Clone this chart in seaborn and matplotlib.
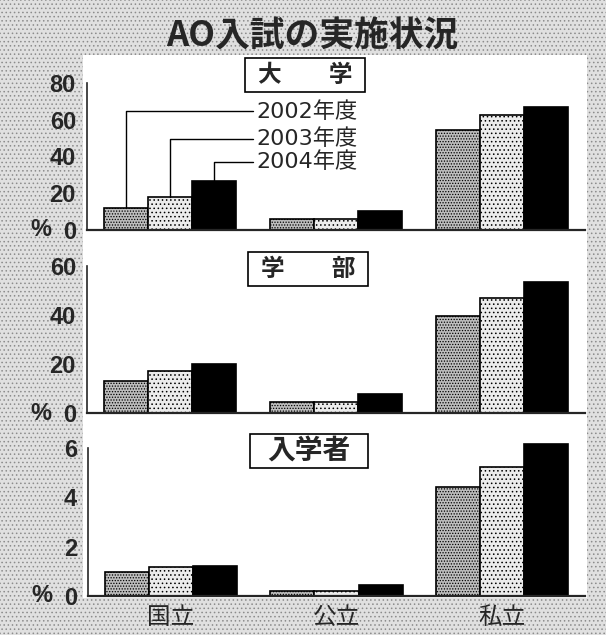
import matplotlib
matplotlib.use("Agg")
import matplotlib.pyplot as plt
from matplotlib.patches import Rectangle
import pandas as pd
import seaborn as sns

# 区分と年度
categories = ["国立", "公立", "私立"]
years = ["2002年度", "2003年度", "2004年度"]

# 大学 (%)
daigaku_2002 = [12.2, 5.8, 54.5]
daigaku_2003 = [18.0, 5.8, 62.4]
daigaku_2004 = [26.6, 10.4, 66.9]

# 学部 (%)
gakubu_2002 = [13.0, 4.4, 39.6]
gakubu_2003 = [17.0, 4.4, 46.8]
gakubu_2004 = [19.8, 7.8, 53.6]

# 入学者 (%)
nyugaku_2002 = [0.97, 0.2, 4.42]
nyugaku_2003 = [1.18, 0.2, 5.23]
nyugaku_2004 = [1.22, 0.46, 6.15]

panel_titles = ["大　　学", "学　　部", "入学者"]
panel_ticks = [[0, 20, 40, 60, 80], [0, 20, 40, 60], [0, 2, 4, 6]]

# ラベルの引き出し線の高さ(大学パネル)
label_levels = [64.5, 49.5, 37.0]


def make_frame(v02, v03, v04):
    rows = []
    for yr, vals in zip(years, [v02, v03, v04]):
        for cat, v in zip(categories, vals):
            rows.append({"区分": cat, "年度": yr, "値": v})
    return pd.DataFrame(rows)


frames = [make_frame(daigaku_2002, daigaku_2003, daigaku_2004),
          make_frame(gakubu_2002, gakubu_2003, gakubu_2004),
          make_frame(nyugaku_2002, nyugaku_2003, nyugaku_2004)]

sns.set_style("white")
plt.rcParams["font.family"] = ["Liberation Sans", "Noto Sans CJK JP", "DejaVu Sans"]
plt.rcParams["hatch.linewidth"] = 0.6

W, H = 606, 635


def px_box(left, top, right, bottom):
    return [left / W, 1 - bottom / H, (right - left) / W, (bottom - top) / H]


fig = plt.figure(figsize=(W / 100, H / 100), dpi=100)
fig.patch.set_facecolor("white")

# 網かけの背景
fig.patches.append(Rectangle((0, 0), 1, 1, transform=fig.transFigure,
                             facecolor="#e0e0e0", edgecolor="#8c8c8c",
                             hatch="....", linewidth=0, zorder=-10))
# 白いパネル
fig.patches.append(Rectangle((83 / W, 1 - 598 / H), (587 - 83) / W, (598 - 55) / H,
                             transform=fig.transFigure, facecolor="white",
                             edgecolor="none", zorder=-9))

fig.text(312 / W, 1 - 36 / H, "AO入試の実施状況", ha="center", va="center",
         fontsize=25, fontweight="bold", family=["Noto Sans CJK JP"])

boxes = [px_box(87, 82.7, 585, 230), px_box(87, 266, 585, 413), px_box(88, 448, 585, 596)]
# 見出し枠 (left, top, right, bottom) px
title_frames = [(245, 58, 365, 92), (248, 252, 368, 286), (250, 434, 368, 468)]
title_sizes = [17, 17, 20]
fills = ["#bdbdbd", "#ececec", "black"]
hatches = ["......", "....", None]

axes = []
for i, (df, box) in enumerate(zip(frames, boxes)):
    ax = fig.add_axes(box)
    ax.patch.set_alpha(0)
    sns.barplot(data=df, x="区分", y="値", hue="年度", order=categories,
                hue_order=years, palette=fills, saturation=1, width=0.8,
                edgecolor="black", linewidth=1.2, legend=False, ax=ax)
    for k, p in enumerate(ax.patches):
        h = hatches[k // 3]
        if h:
            p.set_hatch(h)
        p.set_clip_on(False)
    top = panel_ticks[i][-1]
    ax.set_ylim(0, top)
    ax.set_xlim(-0.5, 2.5)
    ax.set_yticks(panel_ticks[i])
    ax.set_xlabel("")
    ax.set_ylabel("")
    sns.despine(ax=ax)
    ax.spines["left"].set_linewidth(1.2)
    ax.spines["bottom"].set_linewidth(1.6)
    ax.tick_params(axis="y", direction="in", length=8.5, width=1, pad=8,
                   labelsize=17)
    for t in ax.get_yticklabels():
        t.set_fontweight("bold")
    ax.tick_params(axis="x", length=0)
    if i < 2:
        ax.set_xticklabels([])
    else:
        ax.tick_params(axis="x", labelsize=17, pad=8)
    ax.text(-0.092, 0, "%", transform=ax.transAxes, ha="center", va="center",
            fontsize=17, fontweight="bold")

    l, t_, r, b = title_frames[i]
    fig.patches.append(Rectangle((l / W, 1 - b / H), (r - l) / W, (b - t_) / H,
                                 transform=fig.transFigure, facecolor="white",
                                 edgecolor="black", linewidth=1.2, zorder=5))
    fig.text((l + r) / 2 / W, 1 - (t_ + b) / 2 / H, panel_titles[i],
             ha="center", va="center", fontsize=title_sizes[i],
             fontweight="bold", family=["Noto Sans CJK JP"], zorder=6)
    axes.append(ax)

# 年度ラベルと引き出し線
ax = axes[0]
for j, yr in enumerate(years):
    p = ax.patches[j * 3]
    xc = p.get_x() + p.get_width() / 2
    lv = label_levels[j]
    ax.plot([xc, xc, 0.5], [p.get_height(), lv, lv], color="black", lw=1)
    ax.text(0.52, lv, yr, ha="left", va="center", fontsize=16,
            family=["DejaVu Sans", "Noto Sans CJK JP"])

fig.savefig("out.png", dpi=100, facecolor=fig.get_facecolor())
